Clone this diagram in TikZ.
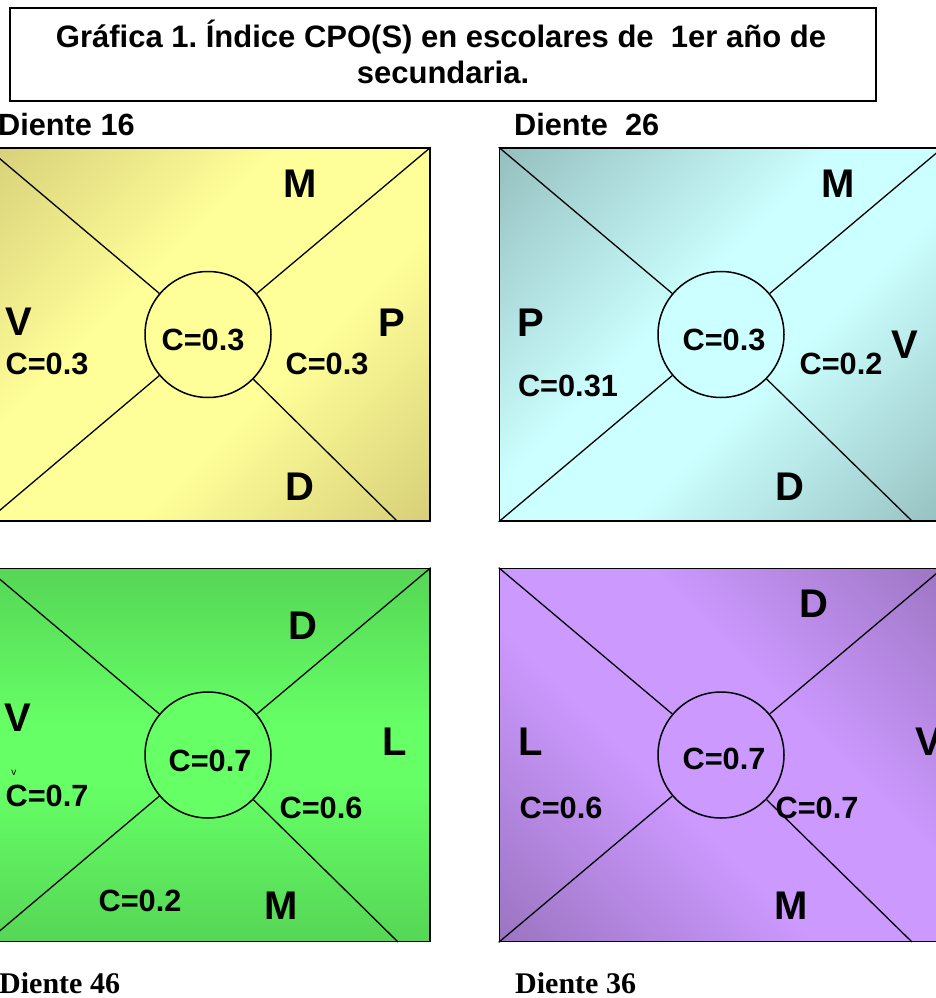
\documentclass[tikz,border=0pt]{standalone}
\usepackage{fontspec}
\setmainfont{Liberation Sans}
\newfontfamily\serifbold{Liberation Serif}
\frenchspacing
\definecolor{ylight}{HTML}{FFFF99}
\definecolor{ydark}{HTML}{D6CE78}
\definecolor{clight}{HTML}{CCFFFF}
\definecolor{cdark}{HTML}{96C0C0}
\definecolor{glight}{HTML}{66FF66}
\definecolor{gdark}{HTML}{56D656}
\definecolor{plight}{HTML}{CC99FF}
\definecolor{pdark}{HTML}{9C75C2}
\pgfdeclarehorizontalshading{yelshade}{100bp}{color(0bp)=(ydark); color(14bp)=(ydark); color(40bp)=(ylight); color(60bp)=(ylight); color(86bp)=(ydark); color(100bp)=(ydark)}
\pgfdeclarehorizontalshading{cyashade}{100bp}{color(0bp)=(cdark); color(15bp)=(cdark); color(44bp)=(clight); color(58bp)=(clight); color(86bp)=(cdark); color(100bp)=(cdark)}
\pgfdeclarehorizontalshading{greshade}{100bp}{color(0bp)=(gdark); color(25bp)=(gdark); color(46bp)=(glight); color(54bp)=(glight); color(75bp)=(gdark); color(100bp)=(gdark)}
\pgfdeclarehorizontalshading{purshade}{100bp}{color(0bp)=(pdark); color(15bp)=(pdark); color(42bp)=(plight); color(60bp)=(plight); color(86bp)=(pdark); color(100bp)=(pdark)}
\tikzset{
  lbl/.style={font=\fontsize{40}{40}\selectfont\bfseries, inner sep=0pt},
  val/.style={font=\fontsize{30.7}{30.7}\selectfont\bfseries, inner sep=0pt},
  dlbl/.style={font=\fontsize{30.7}{30.7}\selectfont\bfseries, inner sep=0pt, anchor=west},
  slbl/.style={font=\serifbold\fontsize{30}{30}\selectfont\bfseries, inner sep=0pt, anchor=base west},
  ttl/.style={font=\fontsize{31}{31}\selectfont\bfseries, inner sep=0pt, anchor=base},
  quad/.style={draw=black, line width=1.6pt, minimum width=443pt, minimum height=373pt, inner sep=0pt, shade},
  hub/.style={circle, draw=black, line width=1.5pt, minimum size=126pt, inner sep=0pt},
  spoke/.style={line width=1.3pt},
}
\begin{document}
\begin{tikzpicture}[x=1pt,y=-1pt]
\useasboundingbox (0,0) rectangle (936,998);
% title
\node[draw=black, line width=1.5pt, minimum width=866pt, minimum height=93pt, inner sep=0pt] (tbox) at (443,54.5) {};
\node[ttl] (t1) at (441,48) {Gráfica 1. Índice CPO(S) en escolares de\ \ 1er año de};
\node[ttl] (t2) at (443,84) {secundaria.};
\node[dlbl] (d16) at (-2,125) {Diente 16};
\node[dlbl] (d26) at (514,125) {Diente\ \ 26};
\node[slbl] (d46) at (-1,993) {Diente 46};
\node[slbl] (d36) at (515,993) {Diente 36};

% ---- yellow (Diente 16)
\node[quad, shading=yelshade, shading angle=-45] (q1) at (208.5,334.5) {};
\coordinate (q1br) at (397,521);
\node[hub, fill=ylight] (h1) at (208,334.5) {};
\draw[spoke] (h1) -- (q1.north west);
\draw[spoke] (h1) -- (q1.north east);
\draw[spoke] (h1) -- (q1.south west);
\draw[spoke] (h1) -- (q1br);
\node[lbl] (y1) at (300,184) {M};
\node[lbl] (y2) at (19,322) {V};
\node[val] (y3) at (47,364) {C=0.3};
\node[val] (y4) at (203,340) {C=0.3};
\node[lbl] (y5) at (392,323) {P};
\node[val] (y6) at (327,364) {C=0.3};
\node[lbl] (y7) at (300,487) {D};

% ---- cyan (Diente 26)
\node[quad, shading=cyashade, shading angle=-45] (q2) at (721,334.5) {};
\coordinate (q2br) at (912,521);
\node[hub, fill=clight] (h2) at (721,334.5) {};
\draw[spoke] (h2) -- (q2.north west);
\draw[spoke] (h2) -- (q2.north east);
\draw[spoke] (h2) -- (q2.south west);
\draw[spoke] (h2) -- (q2br);
\node[lbl] (c1) at (838,184) {M};
\node[lbl] (c2) at (531,323) {P};
\node[val] (c3) at (568,386) {C=0.31};
\node[val] (c4) at (724,340) {C=0.3};
\node[val] (c5) at (841,364) {C=0.2};
\node[lbl] (c6) at (905,345) {V};
\node[lbl] (c7) at (790,487) {D};

% ---- green (Diente 46)
\node[quad, shading=greshade, shading angle=90] (q3) at (208.5,755) {};
\coordinate (q3br) at (398,942);
\node[hub, fill=glight] (h3) at (208,755) {};
\draw[spoke] (h3) -- (q3.north west);
\draw[spoke] (h3) -- (q3.north east);
\draw[spoke] (h3) -- (q3.south west);
\draw[spoke] (h3) -- (q3br);
\node[lbl] (g1) at (303,626) {D};
\node[lbl] (g2) at (18,718) {V};
\node[font=\fontsize{10}{10}\selectfont, inner sep=0pt] (g3) at (14,773) {v};
\node[val] (g4) at (47,796) {C=0.7};
\node[val] (g5) at (210,761) {C=0.7};
\node[lbl] (g6) at (395,742) {L};
\node[val] (g7) at (321,808) {C=0.6};
\node[val] (g8) at (140,901) {C=0.2};
\node[lbl] (g9) at (281,906) {M};

% ---- purple (Diente 36)
\node[quad, shading=purshade, shading angle=45] (q4) at (721,755) {};
\coordinate (q4br) at (912,942);
\node[hub, fill=plight] (h4) at (721,755) {};
\draw[spoke] (h4) -- (q4.north west);
\draw[spoke] (h4) -- (q4.north east);
\draw[spoke] (h4) -- (q4.south west);
\draw[spoke] (h4) -- (q4br);
\node[lbl] (p1) at (814,604) {D};
\node[lbl] (p2) at (531,742) {L};
\node[val] (p3) at (561,808) {C=0.6};
\node[val] (p4) at (724,759) {C=0.7};
\node[val] (p5) at (817,808) {C=0.7};
\node[lbl] (p6) at (929,742) {V};
\node[lbl] (p7) at (791,906) {M};
\end{tikzpicture}
\end{document}
